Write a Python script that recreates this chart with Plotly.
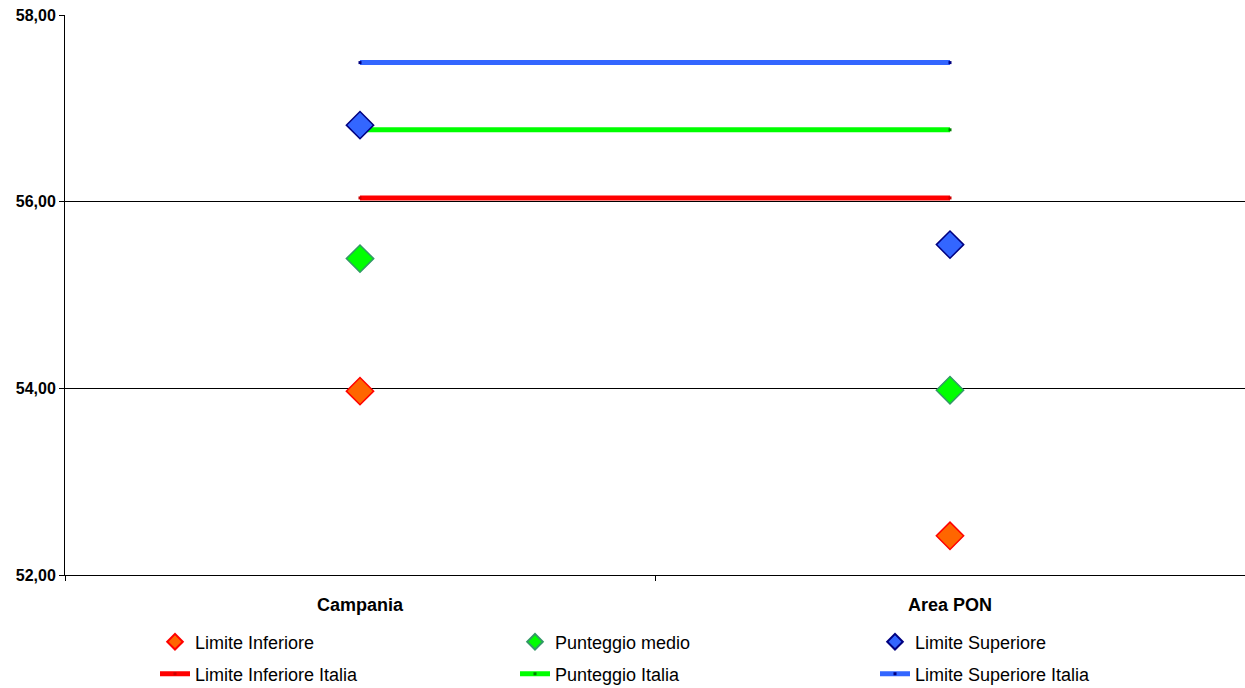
import plotly.graph_objects as go

categories = ["Campania", "Area PON"]
limite_inferiore = [53.97, 52.42]
punteggio_medio = [55.39, 53.98]
limite_superiore = [56.82, 55.54]
limite_inferiore_italia = 56.04
punteggio_italia = 56.77
limite_superiore_italia = 57.49
y_ticks = [52, 54, 56, 58]

xpos = [0.5, 1.5]
fig = go.Figure()

# Italia reference lines (legend row 2)
lines = [
    ("Limite Inferiore Italia", limite_inferiore_italia, "#FF0000", "#CC0000"),
    ("Punteggio Italia", punteggio_italia, "#00FF00", "#008000"),
    ("Limite Superiore Italia", limite_superiore_italia, "#3366FF", "#000080"),
]
for name, val, col, mcol in lines:
    fig.add_trace(go.Scatter(
        x=xpos, y=[val, val], mode="lines+markers", name=name,
        line=dict(color=col, width=5),
        marker=dict(symbol="square", size=3, color=mcol),
        legend="legend2", hoverinfo="skip"))

# Marker series (legend row 1)
markers = [
    ("Limite Inferiore", limite_inferiore, "#FF6600", "#FF0000"),
    ("Punteggio medio", punteggio_medio, "#00FF00", "#339966"),
    ("Limite Superiore", limite_superiore, "#3366FF", "#000080"),
]
for name, vals, fill, border in markers:
    fig.add_trace(go.Scatter(
        x=xpos, y=vals, mode="markers", name=name,
        marker=dict(symbol="diamond", size=21, color=fill,
                    line=dict(color=border, width=1.5)),
        legend="legend"))

W, H = 1245, 688

legend_common = dict(orientation="h", xanchor="left", yanchor="middle",
                     xref="container", yref="container",
                     font=dict(family="Liberation Sans, Arial", size=18, color="black"),
                     bgcolor="rgba(0,0,0,0)", entrywidth=315, entrywidthmode="pixels",
                     itemwidth=30)

fig.update_layout(
    width=W, height=H,
    margin=dict(l=65, r=0, t=15, b=113, autoexpand=False),
    paper_bgcolor="white", plot_bgcolor="white",
    separators=",.",
    showlegend=True,
    legend=dict(x=155 / W, y=1 - 642 / H, itemsizing="constant", **legend_common),
    legend2=dict(x=155 / W, y=1 - 674 / H, itemsizing="trace", **legend_common),
    xaxis=dict(
        range=[0, 2], tickvals=xpos, ticktext=categories,
        ticks="", showgrid=False, zeroline=False, automargin=False,
        showline=True, linecolor="black", linewidth=1,
        ticklabelstandoff=13,
        tickfont=dict(family="Liberation Sans, Arial", size=18, color="black", weight="bold"),
        minor=dict(tickvals=[0, 1, 2], ticks="outside", ticklen=5, tickcolor="black", showgrid=False),
    ),
    yaxis=dict(
        range=[52, 58], tickvals=y_ticks, tickformat=".2f",
        ticks="outside", ticklen=5, tickcolor="black", automargin=False,
        showgrid=True, gridcolor="black", gridwidth=1, zeroline=False,
        showline=True, linecolor="black", linewidth=1,
        tickfont=dict(family="Liberation Sans, Arial", size=16, color="black", weight="bold"),
    ),
)

fig.write_html("out.html", config={"displayModeBar": False},
               post_script="document.body.style.margin='0';")
